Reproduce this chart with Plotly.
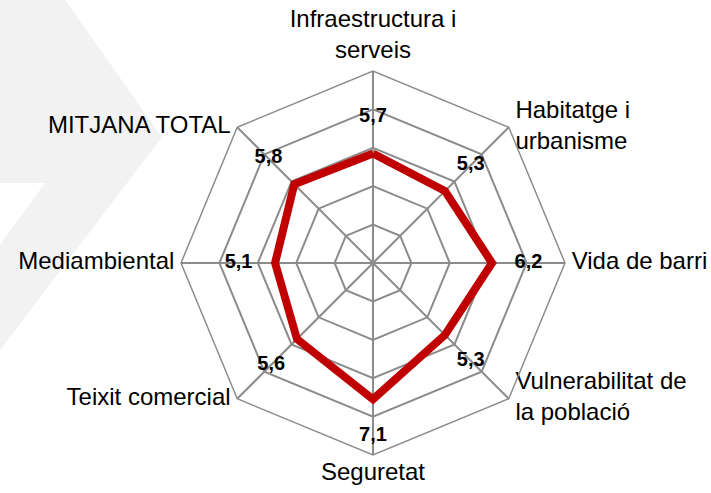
import plotly.graph_objects as go

categories = [
    "Infraestructura i serveis",
    "Habitatge i urbanisme",
    "Vida de barri",
    "Vulnerabilitat de la població",
    "Seguretat",
    "Teixit comercial",
    "Mediambiental",
    "MITJANA TOTAL",
]
category_labels = [
    "Infraestructura i<br>serveis",
    "Habitatge i<br>urbanisme",
    "Vida de barri",
    "Vulnerabilitat de<br>la població",
    "Seguretat",
    "Teixit comercial",
    "Mediambiental",
    "MITJANA TOTAL",
]
values = [5.7, 5.3, 6.2, 5.3, 7.1, 5.6, 5.1, 5.8]
value_labels = ["5,7", "5,3", "6,2", "5,3", "7,1", "5,6", "5,1", "5,8"]
grid_ticks = [0, 2, 4, 6, 8, 10]
r_max = 10

W, H = 711, 493
cx, cy, R = 373, 263, 192
FONT = "Liberation Sans, Arial, sans-serif"

fig = go.Figure()

# closed red polygon
fig.add_trace(go.Scatterpolar(
    r=values + values[:1],
    theta=categories + categories[:1],
    mode="lines",
    line=dict(color="#C00000", width=8),
    hoverinfo="skip",
    showlegend=False,
))

# data labels, slightly outward of each point
label_offset = 1.9
fig.add_trace(go.Scatterpolar(
    r=[v + label_offset for v in values],
    theta=categories,
    mode="text",
    text=[f"<b>{t}</b>" for t in value_labels],
    textfont=dict(family=FONT, size=20, color="#000000"),
    textposition="middle center",
    hoverinfo="skip",
    showlegend=False,
    cliponaxis=False,
))

# category labels at the outer vertices
cat_positions = ["top center", "middle right", "middle right", "middle right",
                 "bottom center", "middle left", "middle left", "middle left"]
fig.add_trace(go.Scatterpolar(
    r=[r_max] * len(categories),
    theta=categories,
    mode="markers+text",
    marker=dict(size=9, opacity=0),
    text=category_labels,
    textposition=cat_positions,
    textfont=dict(family=FONT, size=24, color="#000000"),
    hoverinfo="skip",
    showlegend=False,
    cliponaxis=False,
))

# background light-gray chevron (decorative)
pts = [(0, 0), (65, 0), (162, 137), (0, 350), (0, 245), (45, 183), (0, 183)]
path = "M " + " L ".join(f"{x/W:.4f},{1 - y/H:.4f}" for x, y in pts) + " Z"
fig.add_shape(type="path", path=path, xref="paper", yref="paper",
              fillcolor="#F2F2F2", line=dict(width=0), layer="below")

grid_color = "#8C8C8C"
fig.update_layout(
    width=W, height=H,
    margin=dict(l=0, r=0, t=0, b=0),
    paper_bgcolor="white",
    plot_bgcolor="rgba(0,0,0,0)",
    showlegend=False,
    hovermode=False,
    font=dict(family=FONT, color="#000000"),
    polar=dict(
        domain=dict(x=[(cx - R) / W, (cx + R) / W], y=[(H - cy - R) / H, (H - cy + R) / H]),
        bgcolor="rgba(0,0,0,0)",
        gridshape="linear",
        radialaxis=dict(
            range=[0, r_max], tickvals=grid_ticks, showticklabels=False,
            ticks="", showline=False, gridcolor=grid_color, gridwidth=1.5,
        ),
        angularaxis=dict(
            rotation=90, direction="clockwise",
            gridcolor=grid_color, gridwidth=1.5,
            linecolor=grid_color, linewidth=1.5,
            ticks="", showticklabels=False,
        ),
    ),
)

fig.write_html(
    "out.html",
    config={"displayModeBar": False},
    post_script="document.body.style.margin='0px';",
)
